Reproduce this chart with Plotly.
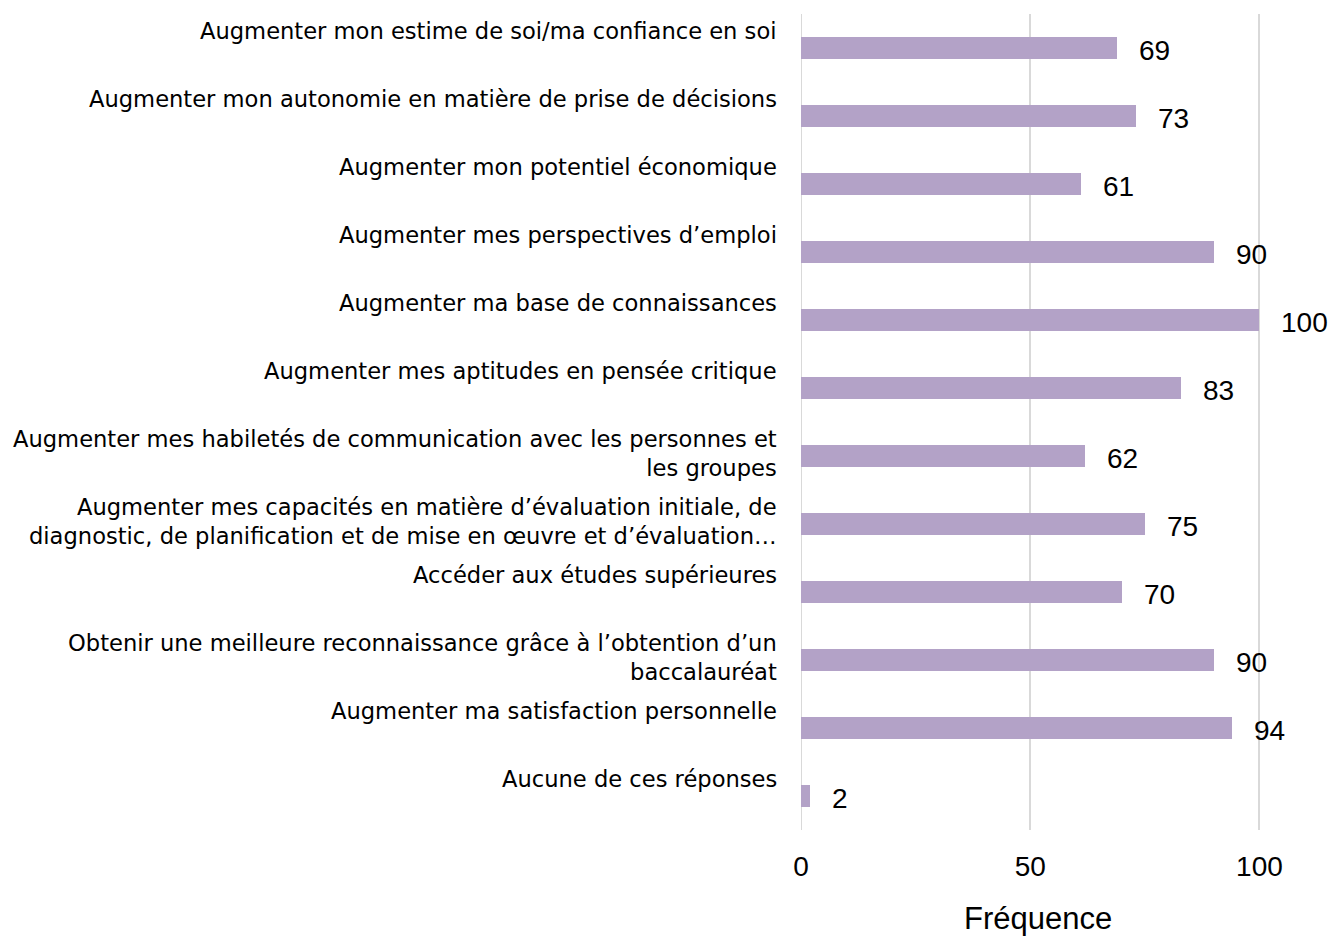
import plotly.graph_objects as go

categories = [
    "Augmenter mon estime de soi/ma confiance en soi",
    "Augmenter mon autonomie en matière de prise de décisions",
    "Augmenter mon potentiel économique",
    "Augmenter mes perspectives d’emploi",
    "Augmenter ma base de connaissances",
    "Augmenter mes aptitudes en pensée critique",
    "Augmenter mes habiletés de communication avec les personnes et<br>les groupes",
    "Augmenter mes capacités en matière d’évaluation initiale, de<br>diagnostic, de planification et de mise en œuvre et d’évaluation…",
    "Accéder aux études supérieures",
    "Obtenir une meilleure reconnaissance grâce à l’obtention d’un<br>baccalauréat",
    "Augmenter ma satisfaction personnelle",
    "Aucune de ces réponses",
]
values = [69, 73, 61, 90, 100, 83, 62, 75, 70, 90, 94, 2]
x_ticks = [0, 50, 100]
x_title = "Fréquence"

FONT = "Liberation Sans, Arial, sans-serif"
LABEL_FONT = "DejaVu Sans, Liberation Sans, sans-serif"
fig = go.Figure()
fig.add_trace(go.Bar(
    y=list(range(len(categories))),
    x=values,
    orientation="h",
    marker=dict(color="#B3A2C7", line=dict(width=0)),
    width=0.31,
    hoverinfo="x",
))

annotations = []
for i, (c, v) in enumerate(zip(categories, values)):
    annotations.append(dict(
        x=0, y=i, xref="x", yref="y", text=c, showarrow=False,
        xanchor="right", yanchor="top", align="right",
        xshift=-22, yshift=32,
        font=dict(family=LABEL_FONT, size=22.6, color="#000000"),
    ))
    annotations.append(dict(
        x=v, y=i, xref="x", yref="y", text=str(v), showarrow=False,
        xanchor="left", yanchor="middle", xshift=20, yshift=-2,
        font=dict(family=FONT, size=28, color="#000000"),
    ))
annotations.append(dict(
    x=0.5, y=0, xref="paper", yref="paper", text=x_title, showarrow=False,
    xanchor="center", yanchor="middle", xshift=5, yshift=-88,
    font=dict(family=FONT, size=31, color="#000000"),
))

fig.update_layout(
    width=1331, height=936,
    margin=dict(l=801, r=67, t=14, b=106),
    paper_bgcolor="white", plot_bgcolor="white",
    showlegend=False,
    annotations=annotations,
    bargap=0,
    xaxis=dict(
        range=[0, 101], tickvals=x_ticks, showgrid=True,
        gridcolor="#D9D9D9", gridwidth=2,
        zeroline=False, showline=False,
        ticklabelstandoff=17,
        tickfont=dict(family=FONT, size=28, color="#000000"),
    ),
    yaxis=dict(
        range=[len(categories) - 0.5, -0.5], showticklabels=False,
        showgrid=False, zeroline=False, showline=False,
    ),
)
fig.add_shape(type="line", xref="x", yref="paper", x0=0, x1=0, y0=0, y1=1,
              line=dict(color="#D9D9D9", width=2), layer="below")

fig.write_html("out.html", config={"displayModeBar": False},
               post_script="document.body.style.margin='0';")
